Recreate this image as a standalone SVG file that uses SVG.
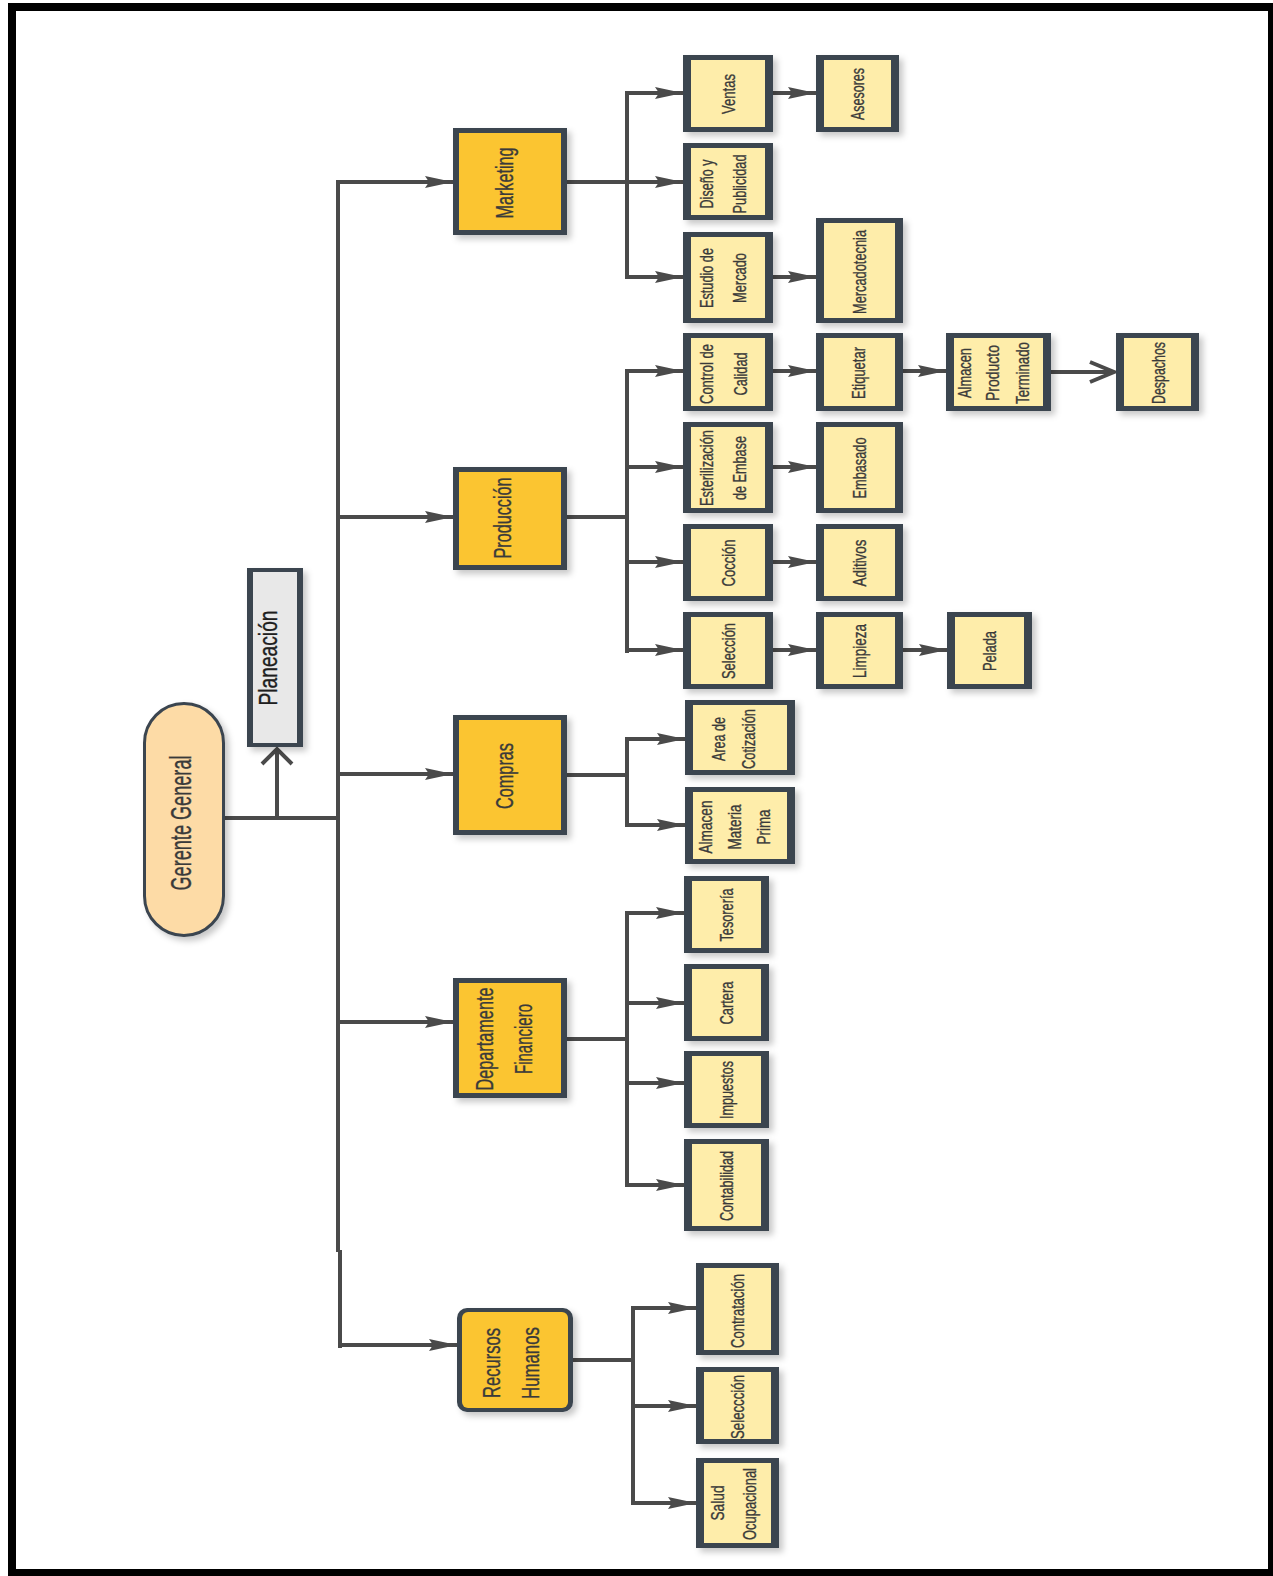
<svg xmlns="http://www.w3.org/2000/svg" width="1273" height="1576" viewBox="0 0 1273 1576">
<style>
.bd{fill:#3b4550}
.dept{fill:#FBC531}
.child{fill:#FEEDAA}
.t{font-family:"Liberation Sans",Arial,sans-serif;fill:#3a3a3a;stroke:#3a3a3a;stroke-width:0.35;text-anchor:middle}
.c{fill:none;stroke:#4a4a4a;stroke-width:4}
.ca{fill:none;stroke:#4a4a4a;stroke-width:4;marker-end:url(#a)}
.s19{font-size:19px}
.s18{font-size:18px}
.s23{font-size:23px}
</style>
<defs>
<marker id="a" markerUnits="userSpaceOnUse" markerWidth="30" markerHeight="14" refX="28" refY="6" orient="auto">
<path d="M0,0 L28,6 L0,12 L4,6 Z" fill="#4a4a4a"/>
</marker>
<filter id="sh" x="-15%" y="-15%" width="140%" height="140%">
<feDropShadow dx="4" dy="4" stdDeviation="3" flood-color="#000" flood-opacity="0.22"/>
</filter>
</defs>
<rect x="0" y="0" width="1273" height="1576" fill="#fff"/>
<rect x="12" y="7" width="1260" height="1566" fill="none" stroke="#000" stroke-width="8"/>

<g id="connectors">
<path class="c" d="M225,818 H338"/>
<path class="c" d="M277,818 V750" stroke-width="6"/>
<path class="c" d="M262,764 L277,749 L292,764" stroke-width="5"/>
<path class="c" d="M338,180 V1252" stroke-width="5"/>
<path class="c" d="M340,1250 V1348" stroke-width="7"/>
<path class="ca" d="M338,182 H453"/>
<path class="ca" d="M338,517 H453"/>
<path class="ca" d="M338,774 H453"/>
<path class="ca" d="M338,1022 H453"/>
<path class="ca" d="M340,1345 H457"/>
<path class="c" d="M567,182 H627"/>
<path class="c" d="M627,91 V279" stroke-width="5"/>
<path class="ca" d="M627,93 H683"/>
<path class="ca" d="M627,182 H683"/>
<path class="ca" d="M627,277 H683"/>
<path class="ca" d="M773,93 H816"/>
<path class="ca" d="M773,277 H816"/>
<path class="c" d="M567,517 H627" stroke-width="7"/>
<path class="c" d="M627,369 V653" stroke-width="5"/>
<path class="ca" d="M627,371 H683"/>
<path class="ca" d="M627,467 H683"/>
<path class="ca" d="M627,562 H683"/>
<path class="ca" d="M627,650 H683"/>
<path class="ca" d="M773,371 H816"/>
<path class="ca" d="M903,371 H946"/>
<path class="c" d="M1051,372 H1114"/>
<path class="c" d="M1090,362 L1114,372 L1090,382"/>
<path class="ca" d="M773,467 H816"/>
<path class="ca" d="M773,562 H816"/>
<path class="ca" d="M773,650 H816"/>
<path class="ca" d="M903,650 H947"/>
<path class="c" d="M567,775 H627"/>
<path class="c" d="M627,737 V827" stroke-width="5"/>
<path class="ca" d="M627,739 H685"/>
<path class="ca" d="M627,825 H685"/>
<path class="c" d="M567,1039 H627"/>
<path class="c" d="M627,911 V1187" stroke-width="5"/>
<path class="ca" d="M627,913 H684"/>
<path class="ca" d="M627,1003 H684"/>
<path class="ca" d="M627,1083 H684"/>
<path class="ca" d="M627,1185 H684"/>
<path class="c" d="M573,1360 H633"/>
<path class="c" d="M633,1306 V1505" stroke-width="7"/>
<path class="ca" d="M633,1308 H696"/>
<path class="ca" d="M633,1406 H696"/>
<path class="ca" d="M633,1503 H696"/>
</g>

<g id="gerente">
<rect x="144.5" y="703.5" width="79" height="232" rx="39.5" fill="#FDDBA6" stroke="#3b4550" stroke-width="3" filter="url(#sh)"/>
<text class="t" font-size="30" transform="translate(191,823) rotate(-90)" textLength="135" lengthAdjust="spacingAndGlyphs">Gerente General</text>
</g>
<g id="planeacion">
<rect class="bd" x="247" y="568" width="56" height="179" filter="url(#sh)"/>
<rect x="253" y="572" width="44" height="171" fill="#E8E8E8"/>
<text class="t" font-size="25" transform="translate(277,658) rotate(-90)" textLength="95" lengthAdjust="spacingAndGlyphs" style="fill:#1e1e1e;stroke:#1e1e1e">Planeación</text>
</g>

<g id="marketing">
<rect class="bd" x="453" y="128" width="114" height="107" filter="url(#sh)"/>
<rect class="dept" x="459" y="133" width="102" height="97"/>
<text class="t s23" transform="translate(513,183) rotate(-90)" textLength="71" lengthAdjust="spacingAndGlyphs">Marketing</text>
</g>
<g id="produccion">
<rect class="bd" x="453" y="467" width="114" height="103" filter="url(#sh)"/>
<rect class="dept" x="459" y="472" width="102" height="93"/>
<text class="t s23" transform="translate(511,518) rotate(-90)" textLength="81" lengthAdjust="spacingAndGlyphs">Producción</text>
</g>
<g id="compras">
<rect class="bd" x="453" y="715" width="114" height="120" filter="url(#sh)"/>
<rect class="dept" x="459" y="720" width="102" height="110"/>
<text class="t s23" transform="translate(513,776) rotate(-90)" textLength="66" lengthAdjust="spacingAndGlyphs">Compras</text>
</g>
<g id="financiero">
<rect class="bd" x="453" y="978" width="114" height="120" filter="url(#sh)"/>
<rect class="dept" x="459" y="983" width="102" height="110"/>
<text class="t s23" transform="translate(493,1039) rotate(-90)" textLength="103" lengthAdjust="spacingAndGlyphs">Departamente</text>
<text class="t s23" transform="translate(532,1039) rotate(-90)" textLength="70" lengthAdjust="spacingAndGlyphs">Financiero</text>
</g>
<g id="rrhh">
<rect class="bd" x="457" y="1308" width="116" height="104" rx="10" filter="url(#sh)"/>
<rect class="dept" x="462" y="1312" width="106" height="96" rx="6"/>
<text class="t" font-size="24" transform="translate(500,1363) rotate(-90)" textLength="70" lengthAdjust="spacingAndGlyphs">Recursos</text>
<text class="t" font-size="24" transform="translate(539,1363) rotate(-90)" textLength="72" lengthAdjust="spacingAndGlyphs">Humanos</text>
</g>

<g id="ventas">
<rect class="bd" x="683" y="55" width="90" height="77" filter="url(#sh)"/>
<rect class="child" x="691" y="60" width="74" height="67"/>
<text class="t s19" transform="translate(735,94) rotate(-90)" textLength="40" lengthAdjust="spacingAndGlyphs">Ventas</text>
</g>
<g id="asesores">
<rect class="bd" x="816" y="55" width="83" height="77" filter="url(#sh)"/>
<rect class="child" x="824" y="60" width="67" height="67"/>
<text class="t s19" transform="translate(864,94) rotate(-90)" textLength="52" lengthAdjust="spacingAndGlyphs">Asesores</text>
</g>
<g id="diseno">
<rect class="bd" x="683" y="143" width="90" height="77" filter="url(#sh)"/>
<rect class="child" x="691" y="148" width="74" height="67"/>
<text class="t s19" transform="translate(713,184) rotate(-90)" textLength="49" lengthAdjust="spacingAndGlyphs">Diseño y</text>
<text class="t s19" transform="translate(746,184) rotate(-90)" textLength="59" lengthAdjust="spacingAndGlyphs">Publicidad</text>
</g>
<g id="estudio">
<rect class="bd" x="683" y="232" width="90" height="91" filter="url(#sh)"/>
<rect class="child" x="691" y="237" width="74" height="81"/>
<text class="t s19" transform="translate(713,278) rotate(-90)" textLength="60" lengthAdjust="spacingAndGlyphs">Estudio de</text>
<text class="t s19" transform="translate(746,278) rotate(-90)" textLength="50" lengthAdjust="spacingAndGlyphs">Mercado</text>
</g>
<g id="mercadotecnia">
<rect class="bd" x="816" y="218" width="87" height="105" filter="url(#sh)"/>
<rect class="child" x="824" y="223" width="71" height="95"/>
<text class="t s19" transform="translate(866,272) rotate(-90)" textLength="84" lengthAdjust="spacingAndGlyphs">Mercadotecnia</text>
</g>

<g id="control">
<rect class="bd" x="683" y="333" width="90" height="78" filter="url(#sh)"/>
<rect class="child" x="691" y="338" width="74" height="68"/>
<text class="t s19" transform="translate(713,374) rotate(-90)" textLength="60" lengthAdjust="spacingAndGlyphs">Control de</text>
<text class="t s19" transform="translate(747,374) rotate(-90)" textLength="43" lengthAdjust="spacingAndGlyphs">Calidad</text>
</g>
<g id="etiquetar">
<rect class="bd" x="816" y="333" width="87" height="78" filter="url(#sh)"/>
<rect class="child" x="824" y="338" width="71" height="68"/>
<text class="t s19" transform="translate(865,373) rotate(-90)" textLength="52" lengthAdjust="spacingAndGlyphs">Etiquetar</text>
</g>
<g id="almacen-pt">
<rect class="bd" x="946" y="333" width="105" height="78" filter="url(#sh)"/>
<rect class="child" x="954" y="338" width="89" height="68"/>
<text class="t s18" transform="translate(971,373) rotate(-90)" textLength="50" lengthAdjust="spacingAndGlyphs">Almacen</text>
<text class="t s18" transform="translate(999,373) rotate(-90)" textLength="56" lengthAdjust="spacingAndGlyphs">Producto</text>
<text class="t s18" transform="translate(1029,373) rotate(-90)" textLength="62" lengthAdjust="spacingAndGlyphs">Terminado</text>
</g>
<g id="despachos">
<rect class="bd" x="1116" y="333" width="83" height="78" filter="url(#sh)"/>
<rect class="child" x="1124" y="338" width="67" height="68"/>
<text class="t s19" transform="translate(1165,373) rotate(-90)" textLength="62" lengthAdjust="spacingAndGlyphs">Despachos</text>
</g>
<g id="esterilizacion">
<rect class="bd" x="683" y="422" width="90" height="91" filter="url(#sh)"/>
<rect class="child" x="691" y="427" width="74" height="81"/>
<text class="t s19" transform="translate(713,468) rotate(-90)" textLength="76" lengthAdjust="spacingAndGlyphs">Esterilización</text>
<text class="t s19" transform="translate(746,468) rotate(-90)" textLength="64" lengthAdjust="spacingAndGlyphs">de Embase</text>
</g>
<g id="embasado">
<rect class="bd" x="816" y="422" width="87" height="91" filter="url(#sh)"/>
<rect class="child" x="824" y="427" width="71" height="81"/>
<text class="t s19" transform="translate(866,468) rotate(-90)" textLength="61" lengthAdjust="spacingAndGlyphs">Embasado</text>
</g>
<g id="coccion">
<rect class="bd" x="683" y="524" width="90" height="77" filter="url(#sh)"/>
<rect class="child" x="691" y="529" width="74" height="67"/>
<text class="t s19" transform="translate(735,563) rotate(-90)" textLength="47" lengthAdjust="spacingAndGlyphs">Cocción</text>
</g>
<g id="aditivos">
<rect class="bd" x="816" y="524" width="87" height="77" filter="url(#sh)"/>
<rect class="child" x="824" y="529" width="71" height="67"/>
<text class="t s19" transform="translate(866,563) rotate(-90)" textLength="47" lengthAdjust="spacingAndGlyphs">Aditivos</text>
</g>
<g id="seleccion">
<rect class="bd" x="683" y="612" width="90" height="77" filter="url(#sh)"/>
<rect class="child" x="691" y="617" width="74" height="67"/>
<text class="t s19" transform="translate(735,651) rotate(-90)" textLength="56" lengthAdjust="spacingAndGlyphs">Selección</text>
</g>
<g id="limpieza">
<rect class="bd" x="816" y="612" width="87" height="77" filter="url(#sh)"/>
<rect class="child" x="824" y="617" width="71" height="67"/>
<text class="t s19" transform="translate(866,651) rotate(-90)" textLength="54" lengthAdjust="spacingAndGlyphs">Limpieza</text>
</g>
<g id="pelada">
<rect class="bd" x="947" y="612" width="85" height="77" filter="url(#sh)"/>
<rect class="child" x="955" y="617" width="69" height="67"/>
<text class="t s19" transform="translate(996,651) rotate(-90)" textLength="40" lengthAdjust="spacingAndGlyphs">Pelada</text>
</g>

<g id="area-cotizacion">
<rect class="bd" x="685" y="700" width="110" height="75" filter="url(#sh)"/>
<rect class="child" x="693" y="705" width="94" height="65"/>
<text class="t s19" transform="translate(725,739) rotate(-90)" textLength="44" lengthAdjust="spacingAndGlyphs">Area de</text>
<text class="t s19" transform="translate(755,739) rotate(-90)" textLength="60" lengthAdjust="spacingAndGlyphs">Cotización</text>
</g>
<g id="almacen-mp">
<rect class="bd" x="685" y="787" width="110" height="77" filter="url(#sh)"/>
<rect class="child" x="693" y="792" width="94" height="67"/>
<text class="t s18" transform="translate(712,827) rotate(-90)" textLength="53" lengthAdjust="spacingAndGlyphs">Almacen</text>
<text class="t s18" transform="translate(741,827) rotate(-90)" textLength="45" lengthAdjust="spacingAndGlyphs">Materia</text>
<text class="t s18" transform="translate(770,827) rotate(-90)" textLength="35" lengthAdjust="spacingAndGlyphs">Prima</text>
</g>

<g id="tesoreria">
<rect class="bd" x="684" y="876" width="85" height="77" filter="url(#sh)"/>
<rect class="child" x="692" y="881" width="69" height="67"/>
<text class="t s19" transform="translate(733,915) rotate(-90)" textLength="53" lengthAdjust="spacingAndGlyphs">Tesorería</text>
</g>
<g id="cartera">
<rect class="bd" x="684" y="964" width="85" height="77" filter="url(#sh)"/>
<rect class="child" x="692" y="969" width="69" height="67"/>
<text class="t s19" transform="translate(733,1003) rotate(-90)" textLength="43" lengthAdjust="spacingAndGlyphs">Cartera</text>
</g>
<g id="impuestos">
<rect class="bd" x="684" y="1051" width="85" height="77" filter="url(#sh)"/>
<rect class="child" x="692" y="1056" width="69" height="67"/>
<text class="t s19" transform="translate(733,1090) rotate(-90)" textLength="58" lengthAdjust="spacingAndGlyphs">Impuestos</text>
</g>
<g id="contabilidad">
<rect class="bd" x="684" y="1139" width="85" height="92" filter="url(#sh)"/>
<rect class="child" x="692" y="1144" width="69" height="82"/>
<text class="t s19" transform="translate(733,1186) rotate(-90)" textLength="70" lengthAdjust="spacingAndGlyphs">Contabilidad</text>
</g>

<g id="contratacion">
<rect class="bd" x="696" y="1263" width="83" height="92" filter="url(#sh)"/>
<rect class="child" x="704" y="1268" width="67" height="82"/>
<text class="t s19" transform="translate(744,1311) rotate(-90)" textLength="74" lengthAdjust="spacingAndGlyphs">Contratación</text>
</g>
<g id="seleccion-rh">
<rect class="bd" x="696" y="1367" width="83" height="77" filter="url(#sh)"/>
<rect class="child" x="704" y="1372" width="67" height="67"/>
<text class="t s19" transform="translate(744,1407) rotate(-90)" textLength="64" lengthAdjust="spacingAndGlyphs">Seleccción</text>
</g>
<g id="salud">
<rect class="bd" x="696" y="1458" width="83" height="90" filter="url(#sh)"/>
<rect class="child" x="704" y="1463" width="67" height="80"/>
<text class="t s19" transform="translate(724,1503) rotate(-90)" textLength="35" lengthAdjust="spacingAndGlyphs">Salud</text>
<text class="t s19" transform="translate(756,1504) rotate(-90)" textLength="72" lengthAdjust="spacingAndGlyphs">Ocupacional</text>
</g>
</svg>
